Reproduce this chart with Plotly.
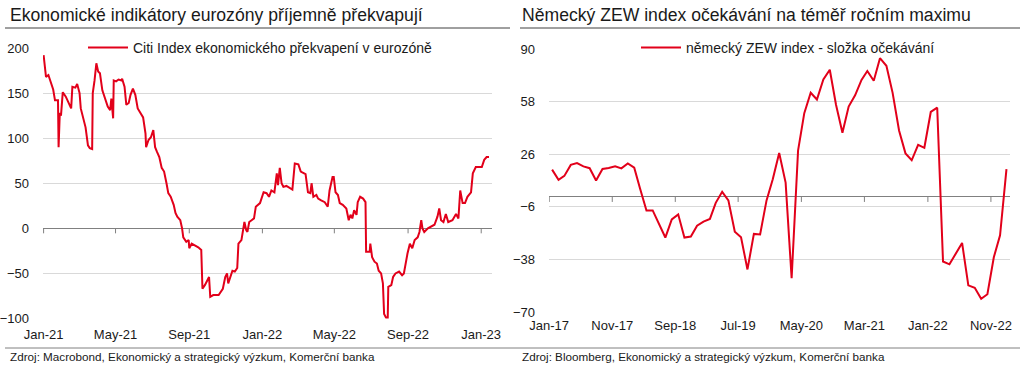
import pandas as pd
import plotly.graph_objects as go

RED = "#E2001A"
FONT = "Arial, 'Liberation Sans', sans-serif"
TXT = "#1A1A1A"
W, H = 1024, 369

# ---------------- data: Citi Economic Surprise Index, eurozone ----------------
citi_start = "2021-01-01"
citi_day = [0, 2, 4, 8, 12, 16, 19, 24, 25, 27, 29, 32, 37, 42, 46, 48, 53, 56, 60, 62,
            66, 70, 74, 77, 81, 82, 85, 88, 91, 94, 98, 103, 107, 111, 113, 116, 117, 121, 125, 130,
            131, 135, 138, 142, 145, 149, 153, 157, 161, 166, 170, 171, 175, 179, 183, 186, 189, 193, 197, 201,
            205, 208, 212, 217, 220, 223, 228, 231, 233, 238, 242, 243, 247, 253, 258, 263, 265, 269, 273, 276,
            278, 283, 292, 296, 299, 303, 306, 308, 311, 315, 319, 323, 325, 330, 335, 338, 340, 343, 347, 351,
            354, 358, 361, 367, 372, 376, 380, 385, 389, 391, 394, 397, 400, 405, 411, 415, 419, 425, 429, 433,
            437, 441, 445, 447, 450, 455, 458, 463, 469, 474, 477, 482, 484, 487, 491, 494, 499, 505, 509, 512,
            515, 518, 522, 524, 528, 533, 537, 538, 544, 545, 548, 552, 556, 559, 563, 566, 568, 572, 574, 575,
            580, 583, 587, 593, 598, 601, 605, 607, 611, 615, 619, 624, 627, 630, 632, 635, 641, 646, 652, 657,
            660, 663, 667, 671, 675, 682, 688, 692, 695, 699, 703, 707, 713, 716, 721, 726, 731, 735, 739, 743]
citi_val = [192, 179, 168, 170, 163, 154, 142, 142, 90, 128, 125, 151, 146, 139, 133, 157, 156, 160, 150, 133,
            122, 112, 92, 89, 88, 150, 164, 183, 174, 172, 153, 142, 135, 131, 144, 122, 164, 163, 165, 164,
            166, 157, 137, 139, 148, 155, 148, 133, 128, 123, 105, 90, 98, 101, 109, 90, 85, 79, 67, 63,
            50, 39, 35, 26, 17, 13, 9, 0, -10, -15, -13, -22, -17, -19, -21, -24, -67, -63, -58, -54,
            -76, -74, -74, -69, -67, -54, -50, -61, -54, -47, -48, -44, -17, -13, 7, -2, -4, 7, 9, 11,
            24, 27, 28, 40, 39, 35, 42, 40, 61, 48, 67, 50, 46, 47, 44, 43, 72, 71, 63, 61,
            60, 40, 39, 50, 35, 37, 33, 31, 29, 24, 42, 57, 57, 40, 37, 28, 26, 22, 9, 15,
            11, 20, 15, 29, 35, 33, 29, -26, -26, -17, -32, -37, -39, -47, -50, -61, -95, -100, -102, -65,
            -63, -54, -50, -48, -52, -50, -34, -28, -17, -22, -13, -10, -4, 9, 0, -4, 0, 2, 4, 13,
            22, 9, 7, 16, 7, 9, 16, 11, 42, 28, 28, 35, 40, 61, 68, 68, 68, 76, 79, 79]

# ---------------- data: German ZEW economic sentiment (expectations) ----------------
zew_first_month = "2017-01-01"
zew_val = [16.6, 10.4, 12.8, 19.5, 20.6, 18.6, 17.5, 10.0, 17.0, 17.6, 18.7, 17.4,
           20.4, 17.8, 5.1, -8.2, -8.2, -16.1, -24.7, -13.7, -10.6, -24.7, -24.1, -17.5,
           -15.0, -13.4, -3.6, 3.1, -2.1, -21.1, -24.5, -44.1, -22.5, -22.8, -2.1, 10.7,
           26.7, 8.7, -49.5, 28.2, 51.0, 63.4, 59.3, 71.5, 77.4, 56.1, 39.0, 55.0,
           61.8, 71.2, 76.6, 70.7, 84.4, 79.8, 63.3, 40.4, 26.5, 22.3, 31.7, 29.9,
           51.7, 54.3, -39.3, -41.0, -34.3, -28.0, -53.8, -55.3, -61.9, -59.2, -36.7, -23.3,
           16.9]

left_ticks = ["2021-01-01", "2021-05-01", "2021-09-01", "2022-01-01",
              "2022-05-01", "2022-09-01", "2023-01-01"]
right_ticks = ["2017-01-01", "2017-11-01", "2018-09-01", "2019-07-01",
               "2020-05-01", "2021-03-01", "2022-01-01", "2022-11-01"]

title_left = "Ekonomické indikátory eurozóny příjemně překvapují"
title_right = "Německý ZEW index očekávání na téměř ročním maximu"
name_left = "Citi Index ekonomického překvapení v eurozóně"
name_right = "německý ZEW index - složka očekávání"
src_left = "Zdroj: Macrobond, Ekonomický a strategický výzkum, Komerční banka"
src_right = "Zdroj: Bloomberg, Ekonomický a strategický výzkum, Komerční banka"

citi_x = pd.Timestamp(citi_start) + pd.to_timedelta(citi_day, unit="D")
zew_x = pd.date_range(zew_first_month, periods=len(zew_val), freq="MS") + pd.Timedelta(days=14)


def px(v):
    return v / W


def py(v):
    return 1 - v / H


fig = go.Figure()
fig.add_trace(go.Scatter(x=citi_x, y=citi_val, mode="lines", name=name_left,
                         line=dict(color=RED, width=2), xaxis="x", yaxis="y",
                         legend="legend", hoverinfo="skip"))
fig.add_trace(go.Scatter(x=zew_x, y=zew_val, mode="lines", name=name_right,
                         line=dict(color=RED, width=2), xaxis="x2", yaxis="y2",
                         legend="legend2", hoverinfo="skip"))

axis_common = dict(showline=False, ticks="", automargin=False,
                   tickfont=dict(family=FONT, size=13, color=TXT))

fig.update_layout(
    width=W, height=H, margin=dict(l=0, r=0, t=0, b=0),
    paper_bgcolor="white", plot_bgcolor="white",
    font=dict(family=FONT, color=TXT),
    xaxis=dict(domain=[px(43), px(492)], anchor="y", type="date",
               range=["2020-12-31", "2023-01-19"], tickvals=left_ticks,
               tickformat="%b-%y", showgrid=False, zeroline=False,
               ticklabelstandoff=6, **axis_common),
    yaxis=dict(domain=[py(318.5), py(48)], anchor="x", range=[-100, 200],
               tick0=0, dtick=50, showgrid=True, gridcolor="#D9D9D9", gridwidth=1,
               zeroline=True, zerolinecolor="#808080", zerolinewidth=1,
               ticklabelstandoff=13, **axis_common),
    xaxis2=dict(domain=[px(549), px(1010)], anchor="y2", type="date",
                range=["2016-12-31", "2023-02-01"], tickvals=right_ticks,
                tickformat="%b-%y", showgrid=False, zeroline=False,
                ticklabelstandoff=4, **axis_common),
    yaxis2=dict(domain=[py(312), py(49)], anchor="x2", range=[-70, 90],
                tick0=-70, dtick=32, showgrid=True, gridcolor="#D9D9D9", gridwidth=1,
                zeroline=True, zerolinecolor="#808080", zerolinewidth=1,
                ticklabelstandoff=13, **axis_common),
    legend=dict(x=px(83), y=py(48), xanchor="left", yanchor="middle",
                bgcolor="rgba(0,0,0,0)", borderwidth=0, itemwidth=40,
                font=dict(family=FONT, size=14, color=TXT)),
    legend2=dict(x=px(636), y=py(48), xanchor="left", yanchor="middle",
                 bgcolor="rgba(0,0,0,0)", borderwidth=0, itemwidth=40,
                 font=dict(family=FONT, size=14, color=TXT)),
    showlegend=True,
)

shapes = []
# tick marks hanging below the zero lines
for t in left_ticks:
    shapes.append(dict(type="line", xref="x", yref="y", x0=t, x1=t,
                       ysizemode="pixel", yanchor=0, y0=0, y1=-5,
                       line=dict(color="#808080", width=1)))
for t in right_ticks:
    shapes.append(dict(type="line", xref="x2", yref="y2", x0=t, x1=t,
                       ysizemode="pixel", yanchor=0, y0=0, y1=-5,
                       line=dict(color="#808080", width=1)))
# white legend backgrounds hiding the top gridline
shapes.append(dict(type="rect", xref="paper", yref="paper", x0=px(69), x1=px(452),
                   y0=py(54), y1=py(42), fillcolor="white", line=dict(width=0), layer="above"))
shapes.append(dict(type="rect", xref="paper", yref="paper", x0=px(599), x1=px(975),
                   y0=py(54), y1=py(42), fillcolor="white", line=dict(width=0), layer="above"))
# title underlines and source line
shapes.append(dict(type="line", xref="paper", yref="paper", x0=px(5), x1=px(510),
                   y0=py(28), y1=py(28), line=dict(color="#404040", width=1)))
shapes.append(dict(type="line", xref="paper", yref="paper", x0=px(520), x1=px(1020),
                   y0=py(28), y1=py(28), line=dict(color="#404040", width=1)))
shapes.append(dict(type="line", xref="paper", yref="paper", x0=px(5), x1=px(1020),
                   y0=py(348), y1=py(348), line=dict(color="#808080", width=1)))
fig.update_layout(shapes=shapes)

ann = []
for text, x in [(title_left, 8), (title_right, 520)]:
    ann.append(dict(text=text, xref="paper", yref="paper", x=px(x), y=py(15),
                    xanchor="left", yanchor="middle", showarrow=False,
                    font=dict(family=FONT, size=17.6, color=TXT)))
for text, x in [(src_left, 8), (src_right, 520)]:
    ann.append(dict(text=text, xref="paper", yref="paper", x=px(x), y=py(356),
                    xanchor="left", yanchor="middle", showarrow=False,
                    font=dict(family=FONT, size=11.7, color=TXT)))
fig.update_layout(annotations=ann)

fig.write_html("out.html", config={"displayModeBar": False},
               post_script="document.body.style.margin='0';document.body.style.overflow='hidden';")
